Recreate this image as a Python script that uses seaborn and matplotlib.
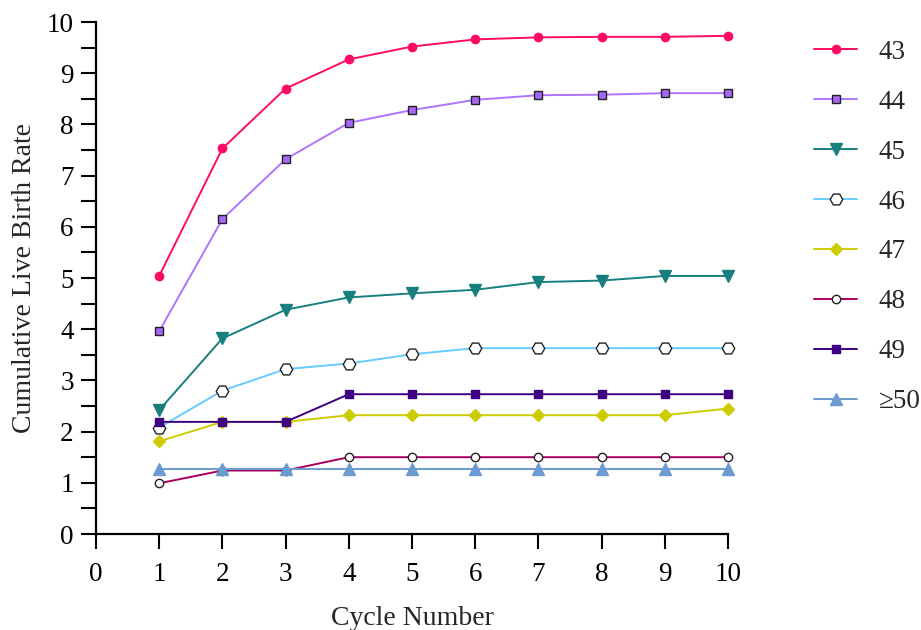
import numpy as np
import pandas as pd
import matplotlib
matplotlib.use("Agg")
import matplotlib.pyplot as plt
import seaborn as sns
from matplotlib.ticker import MultipleLocator

# --- data ---
cycles = [1, 2, 3, 4, 5, 6, 7, 8, 9, 10]
age_groups = ["43", "44", "45", "46", "47", "48", "49", "\u226550"]

rate_43 = [5.04, 7.53, 8.70, 9.27, 9.52, 9.66, 9.70, 9.71, 9.71, 9.73]
rate_44 = [3.96, 6.15, 7.32, 8.03, 8.28, 8.48, 8.57, 8.58, 8.61, 8.61]
rate_45 = [2.42, 3.82, 4.38, 4.62, 4.70, 4.77, 4.92, 4.95, 5.04, 5.04]
rate_46 = [2.08, 2.80, 3.22, 3.33, 3.51, 3.63, 3.63, 3.63, 3.63, 3.63]
rate_47 = [1.81, 2.19, 2.19, 2.32, 2.32, 2.32, 2.32, 2.32, 2.32, 2.45]
rate_48 = [0.99, 1.24, 1.24, 1.50, 1.50, 1.50, 1.50, 1.50, 1.50, 1.50]
rate_49 = [2.19, 2.19, 2.19, 2.73, 2.73, 2.73, 2.73, 2.73, 2.73, 2.73]
rate_50 = [1.26, 1.26, 1.26, 1.26, 1.26, 1.26, 1.26, 1.26, 1.26, 1.26]

rates = [rate_43, rate_44, rate_45, rate_46, rate_47, rate_48, rate_49, rate_50]

df = pd.DataFrame({
    "cycle": np.tile(cycles, len(age_groups)),
    "rate": np.concatenate(rates),
    "age": np.repeat(age_groups, len(cycles)),
})

# per-series styling
styles = {
    "43": dict(color="#ff0a64", marker="o", ms=6, mfc="#ff0a64", mec="#ff0a64"),
    "44": dict(color="#ad74ff", marker="s", ms=6, mfc="#a866f5", mec="#222222"),
    "45": dict(color="#17807e", marker="v", ms=8.5, mfc="#17807e", mec="#17807e"),
    "46": dict(color="#66ccff", marker="H", ms=9, mfc="white", mec="#222222"),
    "47": dict(color="#cccc00", marker="D", ms=6.5, mfc="#cccc00", mec="#cccc00"),
    "48": dict(color="#a8005f", marker="o", ms=6, mfc="white", mec="#222222"),
    "49": dict(color="#3f0082", marker="s", ms=6, mfc="#3f0082", mec="#3f0082"),
    "\u226550": dict(color="#6b9bd0", marker="^", ms=8.5, mfc="#6b9bd0", mec="#6b9bd0"),
}

sns.set_style("ticks")
plt.rcParams["font.family"] = ["Liberation Serif", "DejaVu Serif"]

fig = plt.figure(figsize=(9.21, 6.3), dpi=100)
ax = fig.add_axes([96 / 921, 1 - 534 / 630, (728 - 96) / 921, (534 - 22) / 630])

for age in age_groups:
    st = styles[age]
    sub = df[df["age"] == age]
    sns.lineplot(data=sub, x="cycle", y="rate", ax=ax, label=age,
                 color=st["color"], marker=st["marker"], markersize=st["ms"],
                 markerfacecolor=st["mfc"], markeredgecolor=st["mec"],
                 markeredgewidth=1.0, linewidth=1.4, clip_on=False)

ax.set_xlim(0, 10)
ax.set_ylim(0, 10)
ax.xaxis.set_major_locator(MultipleLocator(1))
ax.yaxis.set_major_locator(MultipleLocator(1))
ax.yaxis.set_minor_locator(MultipleLocator(0.5))

for side in ["top", "right"]:
    ax.spines[side].set_visible(False)
for side in ["left", "bottom"]:
    ax.spines[side].set_linewidth(1.6)
    ax.spines[side].set_color("black")

ax.tick_params(axis="both", which="both", direction="out", length=11,
               width=1.5, colors="black", labelsize=19.5)
ax.tick_params(axis="x", pad=9)
ax.tick_params(axis="y", pad=5)

ax.set_xlabel("Cycle Number", fontsize=20, labelpad=14)
ax.set_ylabel("Cumulative Live Birth Rate", fontsize=20, labelpad=7)

ax.get_legend().remove()
handles, labels = ax.get_legend_handles_labels()
fig.legend(handles, labels, loc="upper left", bbox_to_anchor=(803 / 921, 1 - 29 / 630),
           frameon=False, fontsize=19.5, handlelength=1.6, handletextpad=0.8,
           labelspacing=0.92, borderaxespad=0)

fig.savefig("out.png", dpi=100)
